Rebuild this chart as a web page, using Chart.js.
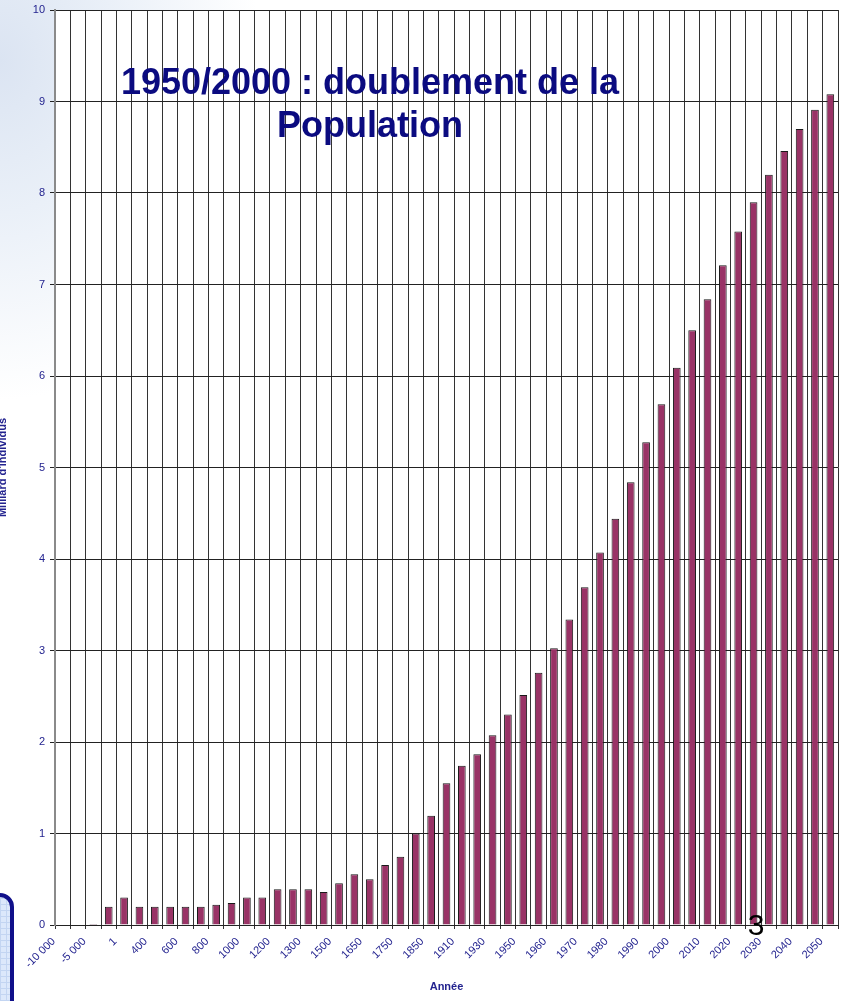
<!DOCTYPE html>
<html>
<head>
<meta charset="utf-8">
<script src="https://cdn.jsdelivr.net/npm/chart.js@4.4.0/dist/chart.umd.min.js"></script>
<style>
  html, body { margin: 0; padding: 0; }
  body {
    width: 843px; height: 1001px; overflow: hidden; position: relative;
    background: radial-gradient(ellipse 260px 340px at 0 60px, #dbe4f2 0%, #eaf0f8 45%, #ffffff 100%);
  }
  #wrap { position: absolute; left: 0; top: 0; width: 843px; height: 1001px; }
  .slide-box {
    position: absolute; left: -40px; top: 893px; width: 46px; height: 140px;
    border: 4px solid #10108a; border-radius: 14px;
    background-color: #dce8fb;
    background-image:
      repeating-linear-gradient(0deg, #c3d5f2 0 1px, transparent 1px 6px),
      repeating-linear-gradient(90deg, #c3d5f2 0 1px, transparent 1px 6px);
  }
</style>
</head>
<body>
<div class="slide-box"></div>
<div id="wrap"><canvas id="population-chart"></canvas></div>
<script>
// années (une étiquette sur deux est affichée)
const yearLabels = [
  '-10 000', '-8 000', '-5 000', '-1 000', '1', '200', '400', '500', '600', '700',
  '800', '900', '1000', '1100', '1200', '1250', '1300', '1400', '1500', '1600',
  '1650', '1700', '1750', '1800', '1850', '1900', '1910', '1920', '1930', '1940',
  '1950', '1955', '1960', '1965', '1970', '1975', '1980', '1985', '1990', '1995',
  '2000', '2005', '2010', '2015', '2020', '2025', '2030', '2035', '2040', '2045', '2050'
];

// milliards d'individus
const population = [
  0, 0, 0.01, 0.2, 0.3, 0.2, 0.2, 0.2, 0.2, 0.2,
  0.22, 0.24, 0.3, 0.3, 0.39, 0.39, 0.39, 0.36, 0.455, 0.554,
  0.5, 0.656, 0.747, 1.0, 1.195, 1.549, 1.741, 1.865, 2.073, 2.3,
  2.514, 2.757, 3.024, 3.34, 3.69, 4.07, 4.44, 4.84, 5.275, 5.69,
  6.09, 6.5, 6.84, 7.21, 7.58, 7.9, 8.2, 8.46, 8.7, 8.91, 9.08
];

const yMin = 0;
const yMax = 10;
const yStep = 1;

const titleLines = ['1950/2000 : doublement de la', 'Population'];
const slideNumber = '3';

const navy = '#23238f';
const fontFamily = '"Liberation Sans", Arial, sans-serif';

const plotBackground = {
  id: 'plotBackground',
  beforeDraw(chart) {
    const { ctx, chartArea } = chart;
    ctx.save();
    ctx.fillStyle = '#ffffff';
    ctx.fillRect(chartArea.left, chartArea.top, chartArea.right - chartArea.left, chartArea.bottom - chartArea.top);
    ctx.restore();
  }
};

const slideText = {
  id: 'slideText',
  afterDraw(chart) {
    const ctx = chart.ctx;
    ctx.save();
    ctx.fillStyle = '#0b0b80';
    ctx.font = 'bold 36px ' + fontFamily;
    ctx.textAlign = 'center';
    ctx.textBaseline = 'alphabetic';
    ctx.fillText(titleLines[0], 370, 94);
    ctx.fillText(titleLines[1], 370, 137);

    ctx.fillStyle = '#000000';
    ctx.font = '30px ' + fontFamily;
    ctx.fillText(slideNumber, 756, 935);
    ctx.restore();
  }
};

const ctx = document.getElementById('population-chart');

new Chart(ctx, {
  type: 'bar',
  data: {
    labels: yearLabels,
    datasets: [{
      data: population,
      backgroundColor: '#993366',
      borderColor: '#1a1a1a',
      borderWidth: 1,
      barPercentage: 0.5,
      categoryPercentage: 1.0
    }]
  },
  options: {
    responsive: true,
    maintainAspectRatio: false,
    animation: false,
    layout: {
      padding: { top: 10, right: 5, left: 0, bottom: 0 }
    },
    scales: {
      x: {
        grid: {
          color: '#333333',
          lineWidth: 1,
          tickLength: 4,
          offset: true
        },
        border: { color: '#222222', width: 1 },
        ticks: {
          autoSkip: false,
          minRotation: 45,
          maxRotation: 45,
          padding: 6,
          labelOffset: -9,
          color: navy,
          font: { size: 11, family: fontFamily },
          callback: function (value, index) {
            return index % 2 === 0 ? this.getLabelForValue(value) : '';
          }
        },
        title: {
          display: true,
          text: 'Année',
          color: navy,
          font: { size: 11, weight: 'bold', family: fontFamily },
          padding: { top: 0, bottom: 7 }
        },
        afterFit: (scale) => {
          scale.height = 76;
          scale.paddingLeft = 0;
          scale.paddingRight = 0;
        }
      },
      y: {
        min: yMin,
        max: yMax,
        grid: {
          color: '#222222',
          lineWidth: 1,
          tickLength: 5
        },
        border: { color: '#8a8a8a', width: 2 },
        ticks: {
          stepSize: yStep,
          padding: 5,
          color: navy,
          font: { size: 11, family: fontFamily }
        },
        title: {
          display: true,
          text: "Milliard d'individus",
          color: navy,
          font: { size: 11, weight: 'bold', family: fontFamily },
          padding: { top: -4, bottom: 0 }
        },
        afterFit: (scale) => {
          scale.width = 55;
          scale.paddingTop = 0;
          scale.paddingBottom = 0;
        }
      }
    },
    plugins: {
      legend: { display: false },
      tooltip: { enabled: false }
    }
  },
  plugins: [plotBackground, slideText]
});
</script>
</body>
</html>
